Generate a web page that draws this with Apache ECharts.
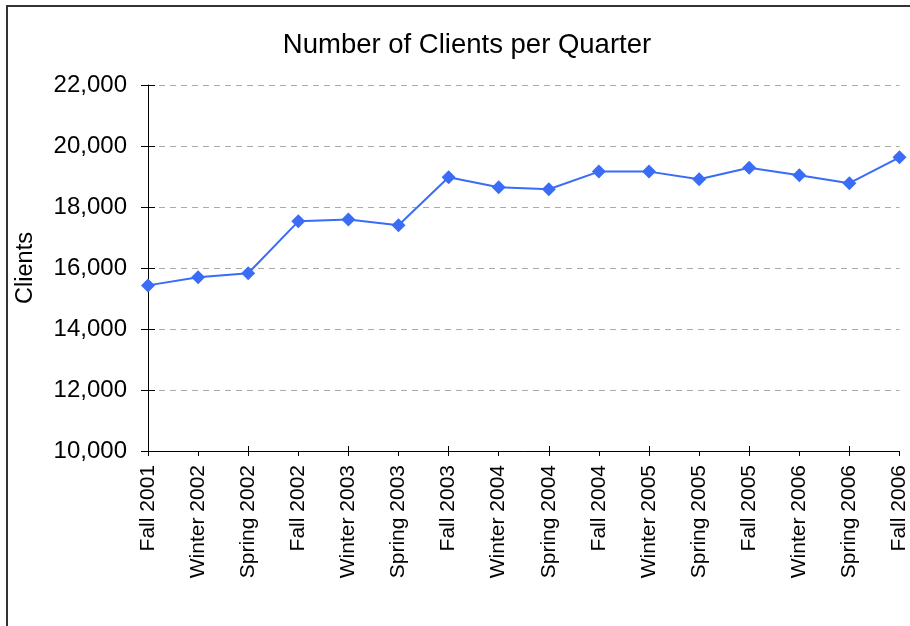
<!DOCTYPE html>
<html>
<head>
<meta charset="utf-8">
<script src="https://cdn.jsdelivr.net/npm/echarts@6/dist/echarts.min.js"></script>
<style>
html,body{margin:0;padding:0;background:#fff;}
#chart{width:910px;height:626px;}
</style>
</head>
<body>
<div id="chart"></div>
<script>
var categories = ['Fall 2001','Winter 2002','Spring 2002','Fall 2002','Winter 2003','Spring 2003','Fall 2003','Winter 2004','Spring 2004','Fall 2004','Winter 2005','Spring 2005','Fall 2005','Winter 2006','Spring 2006','Fall 2006'];
var clients = [15430, 15700, 15830, 17530, 17590, 17400, 18975, 18650, 18580, 19160, 19160, 18910, 19290, 19040, 18780, 19630];
var yMin = 10000, yMax = 22000, yStep = 2000;
var titleText = 'Number of Clients per Quarter';
var yName = 'Clients';

var font = 'Liberation Sans, Arial, Helvetica, sans-serif';
var chart = echarts.init(document.getElementById('chart'), null, {renderer:'canvas'});
chart.setOption({
  animation:false,
  backgroundColor:'#fff',
  graphic:[{type:'rect', shape:{x:7,y:6,width:1000,height:1000}, style:{fill:'none', stroke:'#333', lineWidth:2}, silent:true, z:-1}],
  title:{text:titleText, left:462, textAlign:'center', top:26, textStyle:{fontFamily:font, fontSize:27.5, fontWeight:'normal', color:'#000'}},
  grid:{left:148, top:85, right:5, bottom:175, containLabel:false},
  xAxis:[{
    type:'category', data:categories, boundaryGap:false,
    axisLine:{lineStyle:{color:'#000', width:1}},
    axisTick:{show:true, length:5, alignWithLabel:true, lineStyle:{color:'#000'}},
    axisLabel:{rotate:90, margin:14, interval:0, fontFamily:font, fontSize:21, color:'#000'},
    splitLine:{show:false}
  },{
    type:'category', data:categories, boundaryGap:false, position:'bottom',
    axisLine:{show:false},
    axisTick:{show:true, inside:true, length:5, lineStyle:{color:'#000'}},
    axisLabel:{show:false}, splitLine:{show:false}
  }],
  yAxis:[{
    type:'value', min:yMin, max:yMax, interval:yStep,
    name:yName, nameLocation:'middle', nameRotate:90, nameGap:110,
    nameTextStyle:{fontFamily:font, fontSize:23.5, color:'#000'},
    axisLine:{show:true, lineStyle:{color:'#000', width:1}},
    axisTick:{show:true, length:7, lineStyle:{color:'#000'}},
    axisLabel:{margin:21, fontFamily:font, fontSize:24, color:'#000',
      formatter:function(v){return v.toLocaleString('en-US');}},
    splitLine:{show:true, lineStyle:{color:'#aaa', type:[6,5], width:1}}
  },{
    type:'value', min:yMin, max:yMax, interval:yStep, position:'left',
    axisLine:{show:false},
    axisTick:{show:true, inside:true, length:7, lineStyle:{color:'#000'}},
    axisLabel:{show:false}, splitLine:{show:false}
  }],
  series:[{
    type:'line', data:clients, xAxisIndex:0, yAxisIndex:0,
    symbol:'diamond', symbolSize:14, showAllSymbol:true,
    lineStyle:{color:'#3a6cf6', width:2},
    itemStyle:{color:'#3a6cf6'},
    clip:false
  }]
});
</script>
</body>
</html>
